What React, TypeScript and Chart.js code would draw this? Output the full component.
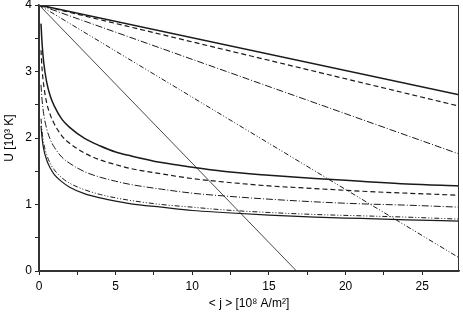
import React, { useEffect, useRef } from "react";
import { Chart, registerables } from "chart.js";

Chart.register(...registerables);

// Straight lines (upper group): start and end points
const lineX = [0, 27.4];
const line1 = [4, 2.65]; // solid thick
const line2 = [4, 2.48]; // dashed
const line3 = [4, 1.76]; // dash-dot
const line4 = [4, 0.2]; // dash-dot-dot
const line5X = [0, 16.8];
const line5 = [4, 0]; // thin solid

// Decaying curves (lower group)
const curveX = [0.13, 0.2, 0.3, 0.5, 0.75, 1, 1.5, 2, 3, 4, 5, 6, 8, 10, 12, 15, 18, 21, 24, 27.4];
const curveA = [3.72, 3.42, 3.15, 2.84, 2.62, 2.48, 2.28, 2.16, 1.99, 1.88, 1.79, 1.73, 1.63, 1.56, 1.5, 1.44, 1.39, 1.35, 1.31, 1.28];
const curveB = [3.32, 3.04, 2.81, 2.53, 2.34, 2.21, 2.03, 1.92, 1.77, 1.67, 1.6, 1.54, 1.46, 1.39, 1.34, 1.28, 1.24, 1.2, 1.17, 1.14];
const curveC = [2.8, 2.57, 2.37, 2.14, 1.97, 1.86, 1.71, 1.62, 1.49, 1.41, 1.35, 1.3, 1.23, 1.17, 1.13, 1.08, 1.04, 1.01, 0.99, 0.96];
const curveD = [2.29, 2.1, 1.93, 1.75, 1.61, 1.52, 1.4, 1.32, 1.22, 1.15, 1.1, 1.06, 1.0, 0.96, 0.92, 0.88, 0.85, 0.83, 0.81, 0.78];
const curveE = [2.18, 2.0, 1.84, 1.67, 1.54, 1.45, 1.34, 1.26, 1.16, 1.1, 1.05, 1.01, 0.96, 0.91, 0.88, 0.84, 0.81, 0.79, 0.77, 0.75];

const xTitle = "< j > [10\u2078 A/m\u00B2]";
const yTitle = "U [10\u00B3 K]";

const INK = "#1a1a1a";
const DASH = [5, 3];
const DASHDOT = [7, 2, 1, 2];
const DASHDOTDOT = [5, 2, 1, 2, 1, 2];
const FONT = { family: "Liberation Sans, Arial, sans-serif", size: 12 };

function pts(xs: number[], ys: number[]) {
  return xs.map((x, i) => ({ x, y: ys[i] }));
}

const framePlugin = {
  id: "frame",
  afterDraw(chart: any) {
    const { ctx, chartArea } = chart;
    ctx.save();
    ctx.strokeStyle = "#333";
    ctx.lineWidth = 1;
    ctx.strokeRect(
      Math.round(chartArea.left) + 0.5,
      Math.round(chartArea.top) + 0.5,
      Math.round(chartArea.right - chartArea.left) - 1,
      Math.round(chartArea.bottom - chartArea.top)
    );
    ctx.restore();
  },
};

export default function App() {
  const ref = useRef<HTMLCanvasElement | null>(null);

  useEffect(() => {
    if (!ref.current) return;
    const mk = (data: any, dash: number[], width: number) => ({
      data,
      borderColor: INK,
      borderWidth: width,
      borderDash: dash,
      pointRadius: 0,
      fill: false,
      cubicInterpolationMode: "monotone",
    });
    const chart = new Chart(ref.current, {
      type: "line",
      data: {
        datasets: [
          mk(pts(lineX, line1), [], 1.5),
          mk(pts(lineX, line2), DASH, 1.2),
          mk(pts(lineX, line3), DASHDOT, 1),
          mk(pts(lineX, line4), DASHDOTDOT, 1),
          mk(pts(line5X, line5), [], 0.8),
          mk(pts(curveX, curveA), [], 1.5),
          mk(pts(curveX, curveB), DASH, 1.2),
          mk(pts(curveX, curveC), DASHDOT, 1),
          mk(pts(curveX, curveD), DASHDOTDOT, 1),
          mk(pts(curveX, curveE), [], 1.2),
        ] as any,
      },
      options: {
        responsive: false,
        animation: false,
        layout: { padding: { top: 5, right: 4, left: 0, bottom: 0 } },
        plugins: { legend: { display: false }, tooltip: { enabled: false } },
        scales: {
          x: {
            type: "linear",
            min: 0,
            max: 27.4,
            afterFit: (s: any) => {
              s.height = 52;
              s.paddingRight = 0;
              s.paddingLeft = 0;
            },
            ticks: {
              stepSize: 2.5,
              includeBounds: false,
              autoSkip: false,
              maxRotation: 0,
              padding: 4,
              color: "#000",
              font: FONT,
              callback: (v: any) => (Math.abs(v % 5) < 1e-6 ? String(v) : ""),
            },
            grid: { drawOnChartArea: false, tickLength: 4, color: "#222", tickWidth: 1 },
            border: { color: "#333", width: 1.5 },
            title: {
              display: true,
              text: xTitle,
              color: "#000",
              font: FONT,
              padding: { top: 0, bottom: 12 },
            },
          },
          y: {
            type: "linear",
            min: 0,
            max: 4,
            afterFit: (s: any) => {
              s.width = 39;
              s.paddingTop = 0;
              s.paddingBottom = 0;
            },
            ticks: {
              stepSize: 0.5,
              autoSkip: false,
              padding: 3,
              color: "#000",
              font: FONT,
              callback: (v: any) => (Number.isInteger(v) ? String(v) : ""),
            },
            grid: { drawOnChartArea: false, tickLength: 4, color: "#222", tickWidth: 1 },
            border: { color: "#333", width: 1.5 },
            title: {
              display: true,
              text: yTitle,
              color: "#000",
              font: FONT,
              padding: { top: 2, bottom: 0 },
            },
          },
        },
      } as any,
      plugins: [framePlugin],
    });
    return () => chart.destroy();
  }, []);

  return (
    <div style={{ position: "fixed", left: 0, top: 0, width: 463, height: 323, background: "#fff" }}>
      <canvas ref={ref} width={463} height={323} />
    </div>
  );
}
